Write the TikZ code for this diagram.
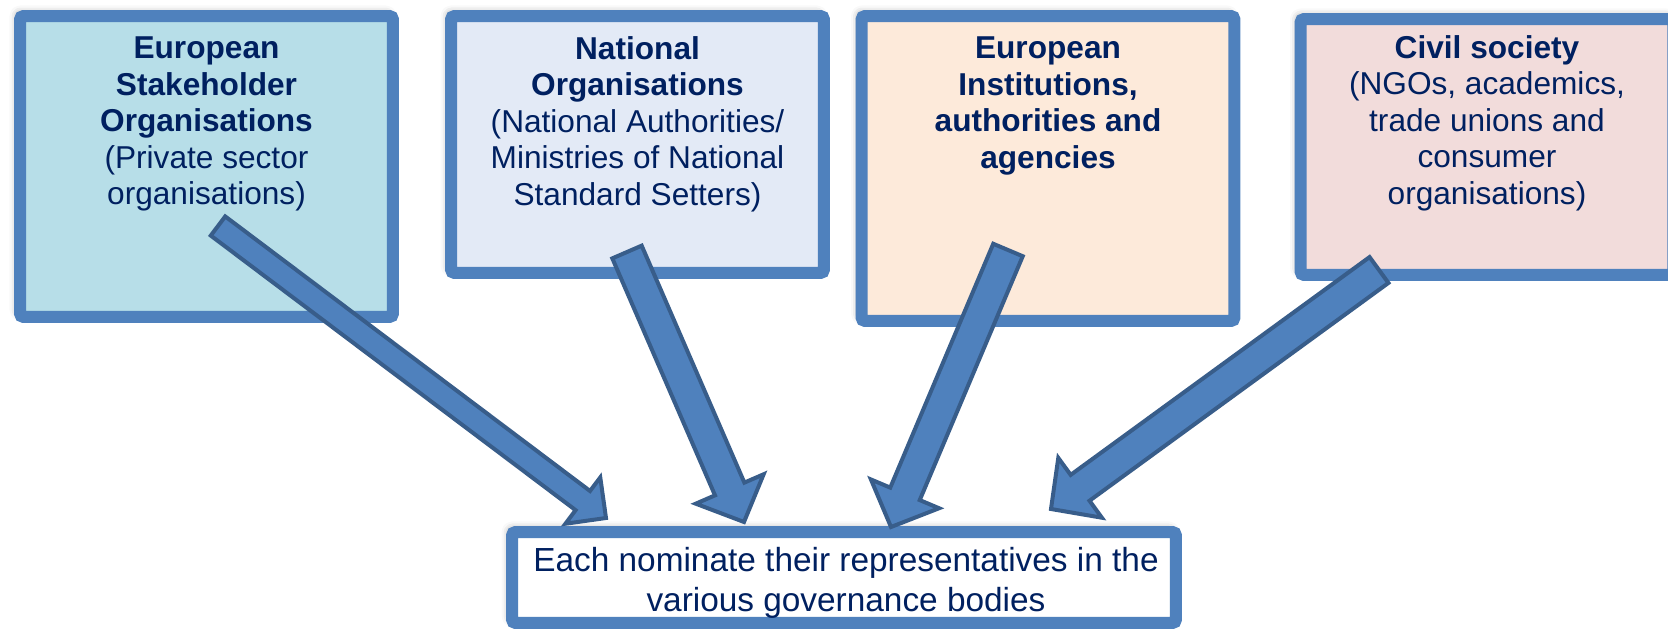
\documentclass[tikz,border=0pt]{standalone}
\usepackage{fontspec}
\setmainfont{Liberation Sans}
\usetikzlibrary{positioning,calc,shadows.blur}
\definecolor{boxline}{RGB}{79,129,189}
\definecolor{arrowline}{RGB}{56,93,138}
\definecolor{navy}{RGB}{0,32,96}
\definecolor{esofill}{RGB}{183,222,232}
\definecolor{natfill}{RGB}{227,234,246}
\definecolor{eufill}{RGB}{253,234,218}
\definecolor{civfill}{RGB}{242,220,219}

\begin{document}
\begin{tikzpicture}[
    x=0.02cm, y=-0.02cm,
    org/.style={rectangle, draw=boxline, line width=0.24cm, rounded corners=2pt, minimum width=7.46cm,
        blur shadow={shadow xshift=-2pt, shadow yshift=2pt, shadow blur radius=4pt, shadow opacity=35}},
    orgtext/.style={text=navy, align=center, inner sep=0pt, font=\fontsize{18}{20.8}\selectfont},
    blockarrow/.style n args={3}{fill=boxline, draw=arrowline, line width=0.08cm, to path={
        ($(\tikztostart)!#1!90:(\tikztotarget)$)
        -- ($($(\tikztotarget)!#3!(\tikztostart)$)!#1!90:(\tikztotarget)$)
        -- ($($(\tikztotarget)!#3!(\tikztostart)$)!#2!90:(\tikztotarget)$)
        -- (\tikztotarget)
        -- ($($(\tikztotarget)!#3!(\tikztostart)$)!#2!-90:(\tikztotarget)$)
        -- ($($(\tikztotarget)!#3!(\tikztostart)$)!#1!-90:(\tikztotarget)$)
        -- ($(\tikztostart)!#1!-90:(\tikztotarget)$) -- cycle}}
]
\useasboundingbox (0,0) rectangle (1668,629);

% the four groups
\node[org, fill=esofill, minimum height=6.02cm] (eso) at (206.5,166.5) {};
\node[org, fill=natfill, minimum height=5.14cm] (nat) at (637.5,144.5) {};
\node[org, fill=eufill, minimum height=6.1cm] (euinst) at (1048,168.5) {};
\node[org, fill=civfill, minimum height=5.12cm] (civil) at (1487,147) {};

\node[orgtext, below=0.53cm of eso.north] (esotext) {\textbf{European}\\\textbf{Stakeholder}\\\textbf{Organisations}\\(Private sector\\organisations)};
\node[orgtext, below=0.52cm of nat.north] (nattext) {\textbf{National}\\\textbf{Organisations}\\(National Authorities/\\Ministries of National\\Standard Setters)};
\node[orgtext, below=0.53cm of euinst.north] (euinsttext) {\textbf{European}\\\textbf{Institutions,}\\\textbf{authorities and}\\\textbf{agencies}};
\node[orgtext, below=0.44cm of civil.north] (civiltext) {\textbf{Civil society}\\(NGOs, academics,\\trade unions and\\consumer\\organisations)};

% target box
\node[org, fill=white, minimum width=13.28cm, minimum height=1.82cm] (nominate) at (844,577.5) {};
\node[orgtext, font=\fontsize{19}{22.4}\selectfont] (nomtext) at (846,583)
    {Each nominate their representatives in the\\various governance bodies};

% arrows
\coordinate (t1) at (218,226);  \coordinate (h1) at (606,518);
\coordinate (t2) at (627,252);  \coordinate (h2) at (744,522);
\coordinate (t3) at (1008,250); \coordinate (h3) at (891,527);
\coordinate (t4) at (1379,270); \coordinate (h4) at (1051,509);
\draw[blockarrow={0.24cm}{0.58cm}{0.58cm}] (t1) to (h1);
\draw[blockarrow={0.32cm}{0.74cm}{0.72cm}] (t2) to (h2);
\draw[blockarrow={0.32cm}{0.74cm}{0.72cm}] (t3) to (h3);
\draw[blockarrow={0.32cm}{0.74cm}{0.72cm}] (t4) to (h4);
\end{tikzpicture}
\end{document}
